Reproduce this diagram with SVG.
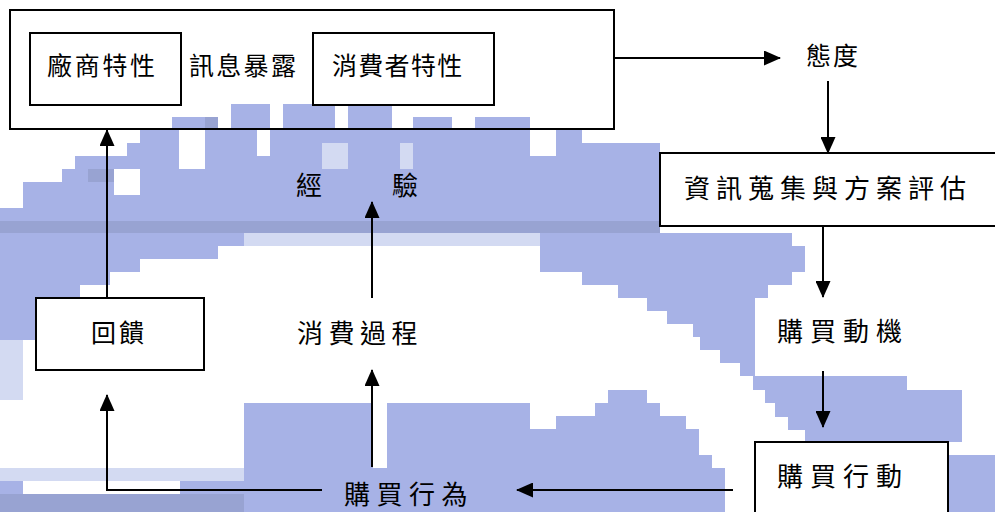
<svg xmlns="http://www.w3.org/2000/svg" width="995" height="512" viewBox="0 0 995 512">
  <defs>
    <marker id="ah" viewBox="0 0 17 15" refX="16" refY="7.5" markerWidth="17" markerHeight="15" orient="auto" markerUnits="userSpaceOnUse">
      <path d="M0,0 L17,7.5 L0,15 z" fill="#000"/>
    </marker>
    <style>
      .box { fill: #fff; stroke: #000; stroke-width: 2; }
      .frame { fill: none; stroke: #000; stroke-width: 2; }
      .lbl { font-family: "Noto Sans CJK TC", "Noto Sans CJK SC", sans-serif; font-size: 25px; fill: #000; }
      .big { font-size: 26px; }
      .conn { fill: none; stroke: #000; stroke-width: 2; marker-end: url(#ah); }
      .wm { fill: #a7b2e6; }
      .wmd { fill: #98a3d2; }
      .wml { fill: #d3daf2; }
      .wmw { fill: #fff; }
    </style>
  </defs>
  <rect width="995" height="512" fill="#fff"/>

  <g id="watermark">
    <path class="wm" d="M0,400 V208 H23 V182 H62 V169 H75 V156 H127 V143 H140 V130 H660 V233 H792 V246 H805 V272 H792 V285 H768 V298 H755 V376 H907 V390 H962 V442 H805 V430 H788 V417 H775 V403 H765 V390 H753 V376 H740 V363 H720 V350 H700 V337 H693 V324 H667 V311 H647 V298 H618 V285 H582 V272 H540 V246 H218 V259 H140 V272 H110 V285 H80 V310 H35 V340 H23 V400 Z"/>
    <rect class="wm" x="172" y="117" width="46" height="13"/>
    <rect class="wm" x="231" y="104" width="39" height="26"/>
    <rect class="wm" x="283" y="104" width="52" height="26"/>
    <rect class="wm" x="348" y="104" width="44" height="26"/>
    <rect class="wm" x="413" y="117" width="39" height="13"/>
    <rect class="wm" x="475" y="117" width="55" height="13"/>
    <rect class="wmw" x="179" y="130" width="26" height="39"/>
    <rect class="wmw" x="257" y="130" width="13" height="26"/>
    <rect class="wmw" x="114" y="169" width="26" height="26"/>
    <rect class="wmw" x="530" y="130" width="26" height="26"/>
    <rect class="wmw" x="582" y="130" width="78" height="13"/>
    <rect class="wml" x="244" y="233" width="296" height="13"/>
    <rect class="wml" x="322" y="143" width="26" height="26"/>
    <rect class="wml" x="400" y="143" width="13" height="26"/>
    <rect class="wmd" x="0" y="221" width="660" height="12"/>
    <rect class="wmd" x="205" y="117" width="13" height="13"/>
    <rect class="wmd" x="88" y="169" width="26" height="13"/>
    <path class="wm" d="M244,512 V403 H373 V468 H387 V403 H530 V429 H556 V416 H595 V403 H608 V390 H647 V403 H660 V416 H686 V429 H699 V455 H712 V468 H725 V512 Z"/>
    <rect class="wml" x="0" y="468" width="244" height="13"/>
    <rect class="wm" x="0" y="481" width="23" height="13"/>
    <rect class="wm" x="180" y="481" width="64" height="13"/>
    <rect class="wmd" x="0" y="494" width="244" height="18"/>
    <rect class="wml" x="0" y="340" width="23" height="60"/>
    <rect class="wm" x="948" y="455" width="47" height="57"/>
  </g>

  <g id="n-outer">
    <rect class="frame" x="10" y="10" width="604" height="119"/>
    <text class="lbl" x="189" y="75" letter-spacing="2.3">訊息暴露</text>
  </g>
  <g id="n-vendor">
    <rect class="box" x="30" y="33" width="151" height="72"/>
    <text class="lbl" x="47" y="75" letter-spacing="2.7">廠商特性</text>
  </g>
  <g id="n-consumer">
    <rect class="box" x="313" y="33" width="181" height="72"/>
    <text class="lbl" x="332" y="75" letter-spacing="1.3">消費者特性</text>
  </g>
  <g id="n-attitude">
    <text class="lbl" x="806" y="65" font-size="28" letter-spacing="2">態度</text>
  </g>
  <g id="n-search">
    <rect class="box" x="660" y="153" width="345" height="73"/>
    <text class="lbl big" x="684" y="198" letter-spacing="6">資訊蒐集與方案評估</text>
  </g>
  <g id="n-motive">
    <rect x="755" y="298" width="152" height="73" fill="#fff"/>
    <text class="lbl big" x="777" y="341" letter-spacing="7">購買動機</text>
  </g>
  <g id="n-action">
    <rect class="box" x="755" y="442" width="193" height="80"/>
    <text class="lbl big" x="777" y="486" letter-spacing="7">購買行動</text>
  </g>
  <g id="n-behavior">
    <text class="lbl big" x="344" y="504" letter-spacing="6.5">購買行為</text>
  </g>
  <g id="n-feedback">
    <rect class="box" x="36" y="298" width="168" height="72"/>
    <text class="lbl" x="91" y="342" letter-spacing="3">回饋</text>
  </g>
  <g id="n-process">
    <text class="lbl big" x="297" y="343" letter-spacing="5.5">消費過程</text>
  </g>
  <g id="n-experience">
    <text class="lbl big" y="195"><tspan x="296">經</tspan><tspan x="392">驗</tspan></text>
  </g>

  <g id="connectors">
    <line class="conn" x1="614" y1="58" x2="780" y2="58"/>
    <line class="conn" x1="828" y1="81" x2="828" y2="153"/>
    <line class="conn" x1="823" y1="226" x2="823" y2="297"/>
    <line class="conn" x1="823" y1="371" x2="823" y2="427"/>
    <line class="conn" x1="733" y1="490" x2="517" y2="490"/>
    <polyline class="conn" points="322,490 107,490 107,395"/>
    <line class="conn" x1="372" y1="467" x2="372" y2="370"/>
    <line class="conn" x1="107" y1="298" x2="107" y2="130"/>
    <line class="conn" x1="372" y1="298" x2="372" y2="202"/>
  </g>
</svg>
